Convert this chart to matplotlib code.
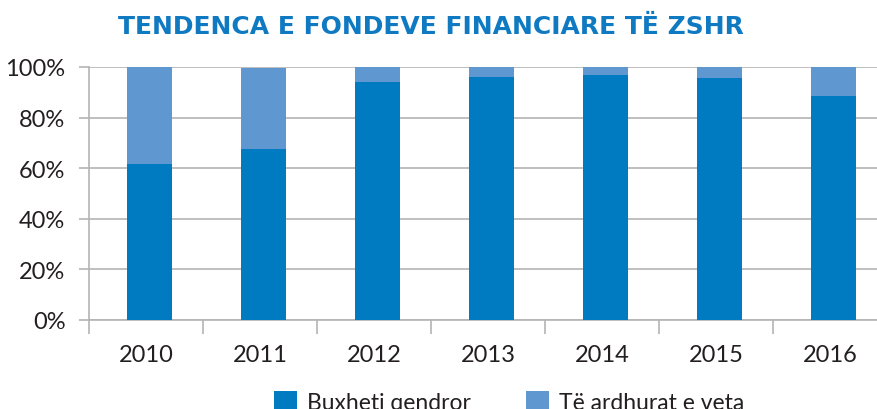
import matplotlib
matplotlib.use('Agg')
import matplotlib.pyplot as plt
import numpy as np

plt.rcParams['font.family'] = ['Lato', 'DejaVu Sans']

years = ['2010', '2011', '2012', '2013', '2014', '2015', '2016']
buxheti = [61.7, 67.7, 94.1, 96.0, 96.8, 95.7, 88.7]  # Buxheti qendror, %
te_ardhurat = [38.3, 32.0, 5.9, 4.0, 3.2, 4.3, 11.3]  # Të ardhurat e veta, %

c_dark = '#007bc2'
c_light = '#5f98d1'
c_grid = '#b4b4b4'
c_text = '#231f20'

fig = plt.figure(figsize=(8.77, 4.10), dpi=100)
ax = fig.add_axes([89 / 877, 89 / 410, 798 / 877, 253 / 410])

x = np.arange(len(years))
w = 0.4
off = 0.03  # bars sit a little right of the category centre
ax.bar(x + off, buxheti, w, color=c_dark, label='Buxheti qendror', zorder=3)
ax.bar(x + off, te_ardhurat, w, bottom=buxheti, color=c_light,
       label='Të ardhurat e veta', zorder=3)

ax.set_xlim(-0.5, len(years) - 0.5)
ax.set_ylim(0, 100)
ax.set_yticks(range(0, 101, 20))
ax.set_yticklabels([f'{v}%' for v in range(0, 101, 20)])
ax.yaxis.grid(True, color=c_grid, lw=1.2, zorder=0)

ax.set_xticks(x)
ax.set_xticklabels(years)
ax.set_xticks(np.arange(-0.5, len(years)), minor=True)
ax.tick_params(axis='x', which='major', length=0, pad=17, labelsize=17, colors=c_text)
ax.tick_params(axis='x', which='minor', length=10, width=1.2, color=c_grid)
ax.tick_params(axis='y', length=7, width=1.2, color=c_grid, pad=10, labelsize=17,
               labelcolor=c_text)

for s in ['top', 'right']:
    ax.spines[s].set_visible(False)
for s in ['left', 'bottom']:
    ax.spines[s].set_color(c_grid)
    ax.spines[s].set_linewidth(1.2)

fig.text(431 / 877, 1 - 27 / 410, 'TENDENCA E FONDEVE FINANCIARE TË ZSHR', ha='center',
         va='center', fontsize=18, fontweight='bold', color='#0f7ac1',
         family=['DejaVu Sans'])

fig.legend(loc='upper center', bbox_to_anchor=(509 / 877, 1 - 376 / 410), ncol=2,
           frameon=False, fontsize=16.5, handlelength=1.0, handleheight=1.0,
           handletextpad=0.45, columnspacing=2.4, labelcolor=c_text, borderpad=0.2)

fig.savefig('out.png', dpi=100)
